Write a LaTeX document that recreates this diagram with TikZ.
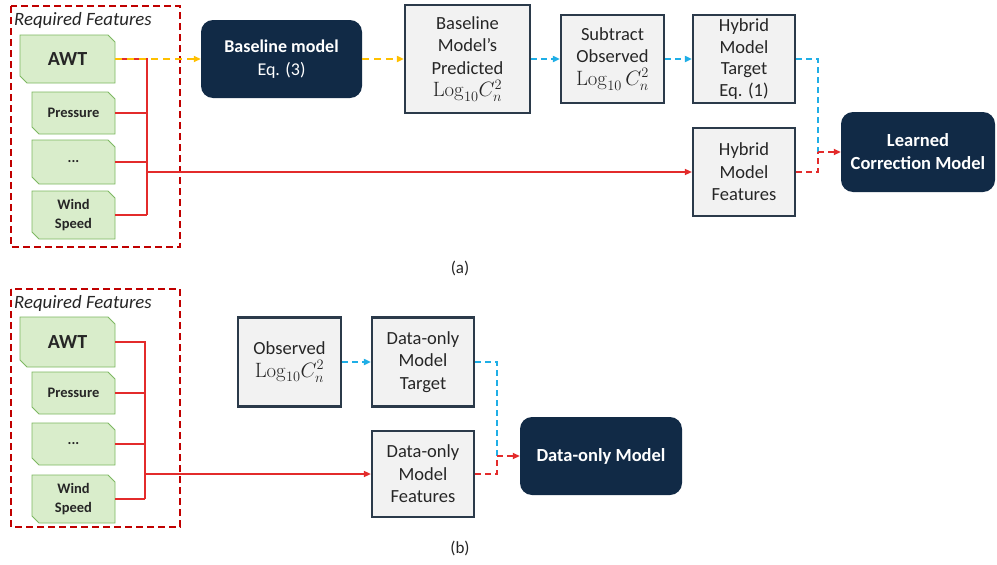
\documentclass[tikz,border=0pt]{standalone}
\usepackage[no-math]{fontspec}
\setmainfont{Carlito}
\usetikzlibrary{arrows.meta}
\definecolor{navy}{HTML}{112A46}
\definecolor{boxborder}{HTML}{2B3A4A}
\definecolor{boxfill}{HTML}{F2F2F2}
\definecolor{textdark}{HTML}{262626}
\definecolor{featborder}{HTML}{7DB861}
\definecolor{featfill}{HTML}{D9EDCB}
\definecolor{lred}{HTML}{E32B2B}
\definecolor{dred}{HTML}{C00000}
\definecolor{lyellow}{HTML}{FFC000}
\definecolor{lblue}{HTML}{1FAEE6}
\newcommand\featbox[6]{%
  \draw[featline] (#2,#3) -- (#4-7,#3) -- (#4,#3+7) -- (#4,#5) -- (#2+7,#5) -- (#2,#5-7) -- cycle;
  \node[featnode, minimum width=#4pt-#2pt, minimum height=#5pt-#3pt] (#1) at ({(#2+#4)/2},{(#3+#5)/2}) {#6};
}
\newcommand\logcn[1][]{{\fontsize{20.5}{22.5}\selectfont$\mathrm{Log}_{10}#1C_n^2$}}
\begin{document}
\begin{tikzpicture}[x=1pt,y=-1pt,
  graybox/.style={draw=boxborder, line width=2.2pt, fill=boxfill, align=center, inner sep=0pt, text=textdark, font=\fontsize{18.5}{22.5}\selectfont},
  navybox/.style={fill=navy, rounded corners=12pt, text=white, align=center, inner sep=0pt},
  featnode/.style={inner sep=0pt, align=center, text=textdark, font=\bfseries\fontsize{14.5}{19}\selectfont},
  featline/.style={draw=featborder, fill=featfill, line width=0.9pt},
  outerbox/.style={draw=dred, line width=2.4pt, dash pattern=on 7pt off 4pt},
  reqtext/.style={font=\itshape\fontsize{18.8}{20}\selectfont, text=textdark, inner sep=0pt},
  redl/.style={draw=lred, line width=1.5pt},
  tip/.style={-{Triangle[length=7pt,width=6pt]}},
  yeld/.style={draw=lyellow, line width=2.4pt, dash pattern=on 7pt off 5pt},
  blued/.style={draw=lblue, line width=2.2pt, dash pattern=on 6pt off 4pt},
  redd/.style={draw=lred, line width=2pt, dash pattern=on 6pt off 4pt},
  captext/.style={font=\fontsize{17}{20}\selectfont, text=textdark}
]
\useasboundingbox (0,0) rectangle (997,565);
\fill[white] (0,0) rectangle (997,565);

% ---------------- Panel (a)
\draw[outerbox] (11,6) rectangle (180,247);
\node[reqtext, anchor=west] (rfa) at (14,20) {Required Features};
\featbox{awtA}{20}{35}{115}{83}{\fontsize{20}{22}\selectfont AWT}
\featbox{prA}{32}{92}{115}{134}{Pressure}
\featbox{dtA}{32}{140}{115}{184}{...}
\featbox{wsA}{32}{191}{115}{239}{Wind\\Speed}

\node[navybox, minimum width=161pt, minimum height=78pt, font=\fontsize{18}{23}\selectfont] (bm) at (281.5,59) {\textbf{Baseline model}\\Eq. (3)};
\node[graybox, minimum width=125pt, minimum height=108pt] (bp) at (467.5,59) {Baseline\\Model's\\Predicted\\\logcn};
\node[graybox, minimum width=103pt, minimum height=88pt] (sub) at (612.5,59) {Subtract\\Observed\\\logcn[\,]};
\node[graybox, minimum width=102pt, minimum height=88pt, font=\fontsize{18.5}{21.5}\selectfont] (tgt) at (744,59) {Hybrid\\Model\\Target\\Eq. (1)};
\node[graybox, minimum width=102pt, minimum height=88pt] (hf) at (744,172) {Hybrid\\Model\\Features};
\node[navybox, minimum width=154pt, minimum height=80pt, font=\bfseries\fontsize{18.5}{23}\selectfont] (lcm) at (918,152) {Learned\\Correction Model};

\coordinate (ja0) at (147,59);
\coordinate (ja3) at (147,215);
\coordinate (jam) at (147,172);
\draw[redl] (awtA.east) -- (ja0) -- (ja3);
\draw[redl] (prA.east) -- (prA.east -| ja0);
\draw[redl] (dtA.east) -- (dtA.east -| ja0);
\draw[redl] (wsA.east) -- (ja3);
\draw[redl, tip] (jam) -- (hf.west);
\draw[yeld, tip] (awtA.east) -- (bm.west);
\draw[yeld, tip] (bm.east) -- (bp.west);
\draw[blued, tip] (bp.east) -- (sub.west);
\draw[blued, tip] (sub.east) -- (tgt.west);
\coordinate (ma) at (818,152);
\draw[blued] (tgt.east) -| (ma);
\draw[redd] (hf.east) -| (ma);
\draw[redd, tip] (ma) -- (lcm.west);
\node[captext] (capa) at (460,268) {(a)};

% ---------------- Panel (b)
\draw[outerbox] (11,289) rectangle (180,527);
\node[reqtext, anchor=west] (rfb) at (14,303) {Required Features};
\featbox{awtB}{20}{317}{115}{367}{\fontsize{20}{22}\selectfont AWT}
\featbox{prB}{32}{372}{115}{414}{Pressure}
\featbox{dtB}{32}{423}{115}{465}{...}
\featbox{wsB}{32}{475}{115}{523}{Wind\\Speed}

\node[graybox, minimum width=103pt, minimum height=89pt] (obs) at (289.5,362) {Observed\\\logcn};
\node[graybox, minimum width=102pt, minimum height=89pt] (dt) at (423,362) {Data-only\\Model\\Target};
\node[graybox, minimum width=102pt, minimum height=86pt] (df) at (423,474) {Data-only\\Model\\Features};
\node[navybox, minimum width=162pt, minimum height=78pt, font=\bfseries\fontsize{18.5}{23}\selectfont] (dom) at (601,456) {Data-only Model};

\coordinate (jb0) at (145,342);
\coordinate (jb3) at (145,499);
\coordinate (jbm) at (145,474);
\draw[redl] (awtB.east) -- (jb0) -- (jb3);
\draw[redl] (prB.east) -- (prB.east -| jb0);
\draw[redl] (dtB.east) -- (dtB.east -| jb0);
\draw[redl] (wsB.east) -- (jb3);
\draw[redl, tip] (jbm) -- (df.west);
\draw[blued, tip] (obs.east) -- (dt.west);
\coordinate (mb) at (497,456);
\draw[blued] (dt.east) -| (mb);
\draw[redd] (df.east) -| (mb);
\draw[redd, tip] (mb) -- (dom.west);
\node[captext] (capb) at (460,548) {(b)};
\end{tikzpicture}
\end{document}
